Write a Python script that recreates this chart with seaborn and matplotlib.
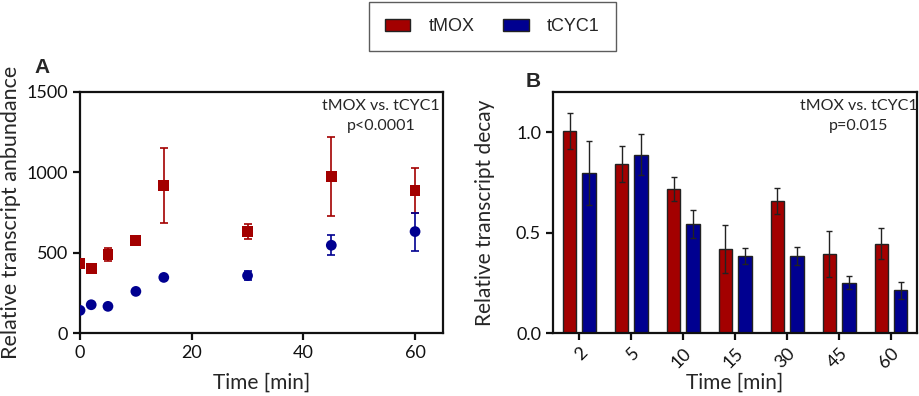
import matplotlib
matplotlib.use("Agg")
import matplotlib.pyplot as plt
import seaborn as sns
import pandas as pd

# Panel A: transcript abundance over time
time_a = [0, 2, 5, 10, 15, 30, 45, 60]
tmox_abund = [434, 402, 490, 577, 917, 631, 972, 888]
tmox_abund_err = [0, 0, 42, 0, 235, 45, 245, 140]
tcyc1_abund = [141, 176, 166, 259, 346, 357, 546, 631]
tcyc1_abund_err = [0, 0, 0, 0, 0, 28, 62, 118]

# Panel B: transcript decay per time point
time_b = ["2", "5", "10", "15", "30", "45", "60"]
tmox_decay = [1.007, 0.840, 0.717, 0.420, 0.655, 0.392, 0.445]
tmox_decay_err = [0.09, 0.09, 0.06, 0.12, 0.065, 0.115, 0.078]
tcyc1_decay = [0.795, 0.888, 0.544, 0.382, 0.382, 0.250, 0.212]
tcyc1_decay_err = [0.16, 0.10, 0.07, 0.04, 0.045, 0.033, 0.043]

groups = ["tMOX", "tCYC1"]
colors = {"tMOX": "#A30000", "tCYC1": "#000090"}

sns.set_style("ticks")
plt.rcParams["font.family"] = ["Lato", "DejaVu Sans"]
plt.rcParams["axes.linewidth"] = 1.6
plt.rcParams["xtick.major.width"] = 1.6
plt.rcParams["ytick.major.width"] = 1.6
plt.rcParams["xtick.major.size"] = 5
plt.rcParams["ytick.major.size"] = 5
plt.rcParams["xtick.color"] = "#111111"
plt.rcParams["ytick.color"] = "#111111"

fig = plt.figure(figsize=(9.2, 3.96), dpi=100)
ax_a = fig.add_axes([0.087, 0.159, 0.3945, 0.609])
ax_b = fig.add_axes([0.601, 0.159, 0.3957, 0.609])

# ---- Panel A
df_a = pd.DataFrame({
    "Time": time_a * 2,
    "Value": tmox_abund + tcyc1_abund,
    "Err": tmox_abund_err + tcyc1_abund_err,
    "Group": ["tMOX"] * len(time_a) + ["tCYC1"] * len(time_a),
})
for g in groups:
    sub = df_a[df_a["Group"] == g]
    ax_a.errorbar(sub["Time"], sub["Value"], yerr=sub["Err"], fmt="none",
                  ecolor=colors[g], elinewidth=1.2, capsize=3, capthick=1.2, zorder=2)
sns.scatterplot(data=df_a, x="Time", y="Value", hue="Group", style="Group",
                markers={"tMOX": "s", "tCYC1": "o"}, palette=colors, s=60,
                edgecolor="none", legend=False, ax=ax_a, zorder=3)
ax_a.set_xlim(0, 65)
ax_a.set_ylim(0, 1500)
ax_a.set_xticks([0, 20, 40, 60])
ax_a.set_yticks([0, 500, 1000, 1500])
ax_a.set_xlabel("Time [min]", fontsize=15)
ax_a.set_ylabel("Relative transcript anbundance", fontsize=15.5, labelpad=4)
ax_a.xaxis.set_label_coords(0.5, -0.165)
ax_a.tick_params(labelsize=13)
ax_a.text(0.83, 0.97, "tMOX vs. tCYC1\np<0.0001", transform=ax_a.transAxes,
          ha="center", va="top", fontsize=11.5, linespacing=1.5)
for s in ax_a.spines.values():
    s.set_visible(True)
    s.set_color("#111111")
fig.text(0.038, 0.815, "A", fontsize=15, fontweight="bold",
         family=["Liberation Sans", "DejaVu Sans"])

# ---- Panel B
df_b = pd.DataFrame({
    "Time": time_b * 2,
    "Value": tmox_decay + tcyc1_decay,
    "Err": tmox_decay_err + tcyc1_decay_err,
    "Group": ["tMOX"] * len(time_b) + ["tCYC1"] * len(time_b),
})
sns.barplot(data=df_b, x="Time", y="Value", hue="Group", palette=colors,
            saturation=1, errorbar=None, width=0.75, gap=0.31,
            edgecolor="#222222", linewidth=1.0, ax=ax_b)
for cont, g in zip(ax_b.containers, groups):
    sub = df_b[df_b["Group"] == g]
    xs = [b.get_x() + b.get_width() / 2 for b in cont]
    ax_b.errorbar(xs, sub["Value"], yerr=sub["Err"], fmt="none", ecolor="#222222",
                  elinewidth=1.0, capsize=2, capthick=1.0, zorder=3)
handles, labels = ax_b.get_legend_handles_labels()
ax_b.get_legend().remove()
ax_b.set_xlim(-0.51, 6.5)
ax_b.set_ylim(0, 1.2)
ax_b.set_yticks([0.0, 0.5, 1.0])
ax_b.set_yticklabels(["0.0", "0.5", "1.0"])
ax_b.set_xlabel("Time [min]", fontsize=15)
ax_b.set_ylabel("Relative transcript decay", fontsize=15, labelpad=15)
ax_b.xaxis.set_label_coords(0.5, -0.165)
ax_b.tick_params(labelsize=13)
plt.setp(ax_b.get_xticklabels(), rotation=45, ha="right", rotation_mode="anchor")
ax_b.text(0.84, 0.97, "tMOX vs. tCYC1\np=0.015", transform=ax_b.transAxes,
          ha="center", va="top", fontsize=11.5, linespacing=1.5)
for s in ax_b.spines.values():
    s.set_visible(True)
    s.set_color("#111111")
fig.text(0.571, 0.78, "B", fontsize=15, fontweight="bold",
         family=["Liberation Sans", "DejaVu Sans"])

# ---- shared legend
leg = fig.legend(handles, labels, loc="upper center", bbox_to_anchor=(0.535, 0.995),
                 ncol=2, frameon=True, fancybox=False, borderaxespad=0,
                 handlelength=1.4, handleheight=0.6, columnspacing=1.6,
                 borderpad=0.9, handletextpad=1.0,
                 prop={"family": ["Liberation Sans", "DejaVu Sans"], "size": 13})
leg.get_frame().set_edgecolor("#333333")
leg.get_frame().set_linewidth(1.0)

plt.savefig("out.png", dpi=100)
